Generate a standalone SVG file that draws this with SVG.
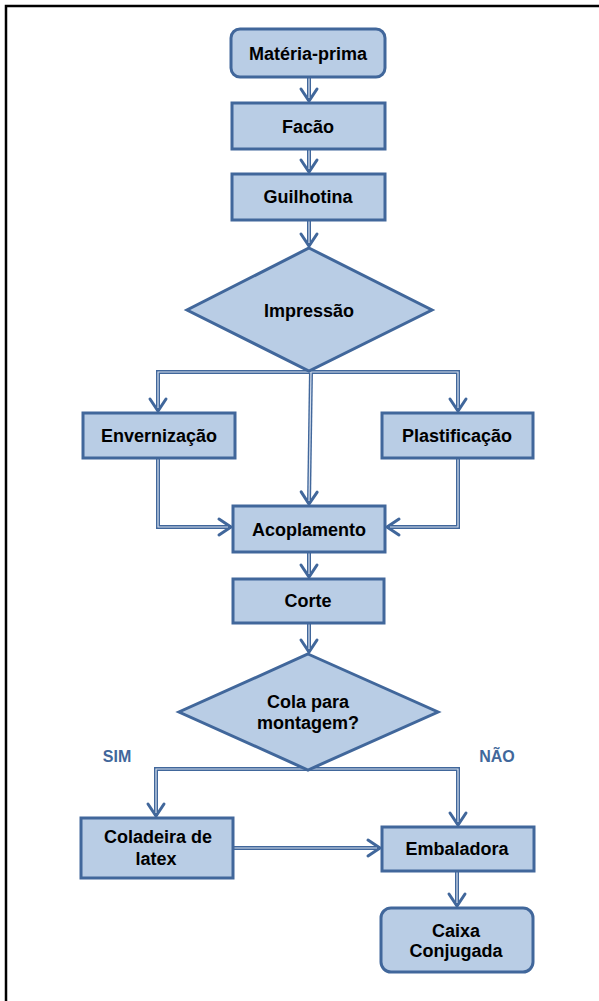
<svg xmlns="http://www.w3.org/2000/svg" width="599" height="1001" viewBox="0 0 599 1001">
<defs>
<style>
.n{fill:#b9cde5;stroke:#41679b;stroke-width:3}
.t{font-family:"Liberation Sans",Arial,sans-serif;font-weight:bold;font-size:18px;fill:#000;text-anchor:middle}
.l{font-family:"Liberation Sans",Arial,sans-serif;font-weight:bold;font-size:16px;fill:#41679b;text-anchor:middle}
.c{fill:none;stroke:#41679b;stroke-width:4;stroke-linejoin:miter}
.ci{fill:none;stroke:#d6e0ee;stroke-width:1.2}
</style>
<marker id="ah" markerUnits="userSpaceOnUse" viewBox="-16 -11 19 22" refX="0" refY="0" markerWidth="19" markerHeight="22" orient="auto">
<path d="M-12,-8 L0,0 L-12,8" fill="none" stroke="#41679b" stroke-width="3" stroke-linecap="round" stroke-linejoin="miter"/>
</marker>
</defs>
<rect width="599" height="1001" fill="#fff"/>
<path d="M6,1001 V6 H599" fill="none" stroke="#000" stroke-width="2.5"/>

<g id="connectors">
<path class="c" d="M309,77 V101" marker-end="url(#ah)"/>
<path class="c" d="M309,149 V172" marker-end="url(#ah)"/>
<path class="c" d="M309,220 V246" marker-end="url(#ah)"/>
<path class="c" d="M309,372 H158 V411" marker-end="url(#ah)"/>
<path class="c" d="M309,372 H458 V411" marker-end="url(#ah)"/>
<path class="c" d="M311,370 L309,504" marker-end="url(#ah)"/>
<path class="c" d="M158,458 V527 H231" marker-end="url(#ah)"/>
<path class="c" d="M458,458 V527 H387" marker-end="url(#ah)"/>
<path class="c" d="M309,552 V577" marker-end="url(#ah)"/>
<path class="c" d="M309,623 V652" marker-end="url(#ah)"/>
<path class="c" d="M308,769 H156 V816" marker-end="url(#ah)"/>
<path class="c" d="M308,769 H458 V825" marker-end="url(#ah)"/>
<path class="c" d="M233,848 H380" marker-end="url(#ah)"/>
<path class="c" d="M457,871 V906" marker-end="url(#ah)"/>
<path class="ci" d="M309,78 V98"/>
<path class="ci" d="M309,150 V169"/>
<path class="ci" d="M309,221 V243"/>
<path class="ci" d="M309,372 H158 V408"/>
<path class="ci" d="M309,372 H458 V408"/>
<path class="ci" d="M311,371 L309,501"/>
<path class="ci" d="M158,459 V527 H228"/>
<path class="ci" d="M458,459 V527 H390"/>
<path class="ci" d="M309,553 V574"/>
<path class="ci" d="M309,624 V649"/>
<path class="ci" d="M308,769 H156 V813"/>
<path class="ci" d="M308,769 H458 V822"/>
<path class="ci" d="M234,848 H377"/>
<path class="ci" d="M457,872 V903"/>
</g>

<g id="materia-prima">
<rect class="n" x="231" y="29" width="154" height="48" rx="9"/>
<text class="t" x="308" y="60">Matéria-prima</text>
</g>
<g id="facao">
<rect class="n" x="232" y="103" width="153" height="46"/>
<text class="t" x="308" y="133">Facão</text>
</g>
<g id="guilhotina">
<rect class="n" x="232" y="174" width="153" height="46"/>
<text class="t" x="308" y="203">Guilhotina</text>
</g>
<g id="impressao">
<polygon class="n" points="309,248 432,310 309,371 187,310"/>
<text class="t" x="309" y="317">Impressão</text>
</g>
<g id="envernizacao">
<rect class="n" x="83" y="413" width="152" height="45"/>
<text class="t" x="159" y="442">Envernização</text>
</g>
<g id="plastificacao">
<rect class="n" x="382" y="413" width="151" height="45"/>
<text class="t" x="457" y="442">Plastificação</text>
</g>
<g id="acoplamento">
<rect class="n" x="233" y="506" width="152" height="46"/>
<text class="t" x="309" y="536">Acoplamento</text>
</g>
<g id="corte">
<rect class="n" x="233" y="579" width="151" height="44"/>
<text class="t" x="308" y="607">Corte</text>
</g>
<g id="cola">
<polygon class="n" points="308,654 438,712 308,770 179,712"/>
<text class="t" x="308" y="708">Cola para</text>
<text class="t" x="308" y="729">montagem?</text>
</g>
<g id="sim-label"><text class="l" x="117" y="762">SIM</text></g>
<g id="nao-label"><text class="l" x="497" y="762">NÃO</text></g>
<g id="coladeira">
<rect class="n" x="81" y="818" width="152" height="60"/>
<text class="t" x="158" y="843">Coladeira de</text>
<text class="t" x="156" y="865">latex</text>
</g>
<g id="embaladora">
<rect class="n" x="382" y="827" width="152" height="44"/>
<text class="t" x="457" y="855">Embaladora</text>
</g>
<g id="caixa">
<rect class="n" x="381" y="908" width="152" height="64" rx="10"/>
<text class="t" x="456" y="937">Caixa</text>
<text class="t" x="456" y="957">Conjugada</text>
</g>
</svg>
